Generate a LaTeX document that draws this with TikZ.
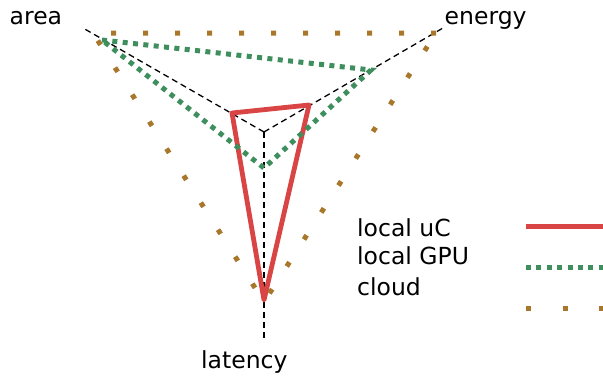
\documentclass[tikz,border=0pt]{standalone}
\usepackage{fontspec}
\setmainfont{DejaVu Sans}
\definecolor{ucred}{HTML}{D94444}
\definecolor{gpugreen}{HTML}{3E8E5E}
\definecolor{cloudbrown}{HTML}{A8772B}
\begin{document}
\begin{tikzpicture}[x=1pt,y=-1pt,
  axis/.style={black, line width=1.3pt, dash pattern=on 6pt off 4pt},
  ucline/.style={ucred, line width=4.8pt, line join=round},
  gpuline/.style={gpugreen, line width=5pt, dash pattern=on 5pt off 5.4pt},
  cloudline/.style={cloudbrown, line width=5pt, dash pattern=on 5pt off 27pt},
  lbl/.style={inner sep=0pt, anchor=base west, font=\fontsize{23.5}{28}\selectfont}]
\useasboundingbox (0,0) rectangle (603,376);

% axes
\coordinate (c) at (264,132);
\coordinate (areaend) at (83,28);
\coordinate (energyend) at (443,28);
\coordinate (latend) at (264,340);
\draw[axis] (c) -- (areaend);
\draw[axis] (c) -- (energyend);
\draw[axis] (c) -- (latend);

% local uC
\coordinate (ua) at (232,113);
\coordinate (ue) at (309,105);
\coordinate (ul) at (264,300);
\draw[ucline] (ua) -- (ue) -- (ul) -- cycle;

% local GPU
\coordinate (ga) at (102,40);
\coordinate (ge) at (371,70);
\coordinate (gl) at (264,168);
\draw[gpuline] (ga) -- (ge) -- (gl) -- cycle;

% cloud
\coordinate (ca) at (93,33);
\coordinate (ce) at (436,33);
\coordinate (cl) at (264,302);
\draw[cloudline] (ce) -- (ca) -- (cl) -- cycle;

% axis labels
\node[lbl] (tarea) at (9.5,24) {area};
\node[lbl] (tenergy) at (444.5,24) {energy};
\node[lbl] (tlat) at (201,368) {latency};

% legend
\node[lbl] (kuc) at (357,236) {local uC};
\node[lbl] (kgpu) at (357,264) {local GPU};
\node[lbl] (kcloud) at (357,295) {cloud};
\coordinate (luc1) at (526,226.5);
\coordinate (luc2) at (603,226.5);
\coordinate (lgpu1) at (526,267);
\coordinate (lgpu2) at (606,267);
\coordinate (lcl1) at (526,308);
\coordinate (lcl2) at (610,308);
\draw[ucred, line width=4.8pt] (luc1) -- (luc2);
\draw[gpugreen, line width=5pt, dash pattern=on 5pt off 5.4pt] (lgpu1) -- (lgpu2);
\draw[cloudbrown, line width=5pt, dash pattern=on 5pt off 31.5pt] (lcl1) -- (lcl2);
\end{tikzpicture}
\end{document}
